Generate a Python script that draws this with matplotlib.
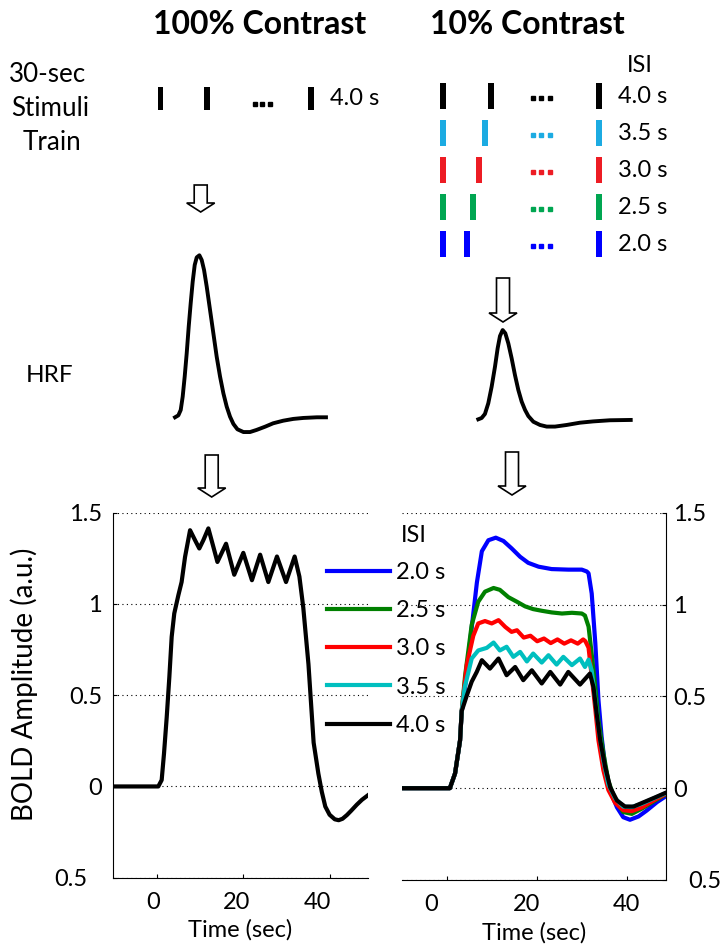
import matplotlib
matplotlib.use('Agg')
import matplotlib.pyplot as plt
import matplotlib.transforms as mtransforms
from matplotlib.patches import FancyArrow

plt.rcParams['font.family'] = ['Lato', 'DejaVu Sans']
plt.rcParams['font.size'] = 17

# ---- data ----
# stimulus trains (onset in s), rows top to bottom
isi = [4.0, 3.5, 3.0, 2.5, 2.0]
isi_labels = ['4.0 s', '3.5 s', '3.0 s', '2.5 s', '2.0 s']
bar_colors = ['#000000', '#1cabe2', '#ed1c24', '#00a651', '#0000ff']
last_onset = 13.0
dots_left = [8.1, 8.75, 9.4]
dots_right = [7.5, 8.2, 8.9]

# HRF
hrf_t_100 = [0, 0.66, 1.13, 1.52, 1.92, 2.32, 2.72, 3.11, 3.51, 3.91, 4.31, 4.84, 5.3, 5.77, 6.3, 6.96, 7.62,
             8.28, 8.95, 9.61, 10.27, 10.93, 11.6, 12.4, 13.6, 14.9, 16.2, 17.9, 19.5, 21.5, 23.5, 25.5, 28.2, 30.0]
hrf_a_100 = [0, 0.012, 0.045, 0.127, 0.251, 0.395, 0.56, 0.703, 0.837, 0.94, 0.987, 1.0, 0.971, 0.909, 0.806,
             0.662, 0.518, 0.374, 0.251, 0.148, 0.066, 0.004, -0.041, -0.074, -0.091, -0.091, -0.078, -0.058,
             -0.037, -0.021, -0.010, -0.004, 0, 0]
hrf_t_10 = [0, 0.66, 1.31, 1.97, 2.63, 3.29, 3.81, 4.27, 4.8, 5.32, 5.91, 6.57, 7.22, 7.88, 8.54, 9.2, 9.85,
            10.84, 12.15, 13.46, 15.1, 17.4, 20.0, 22.6, 25.9, 30.0]
hrf_a_10 = [0, 0.008, 0.033, 0.099, 0.201, 0.325, 0.438, 0.514, 0.551, 0.531, 0.469, 0.376, 0.273, 0.181,
            0.109, 0.058, 0.02, -0.015, -0.035, -0.045, -0.045, -0.035, -0.021, -0.013, -0.006, -0.004]

# BOLD, 100% contrast, ISI 4.0 s
t100 = [-10, 0.3, 1.08, 1.62, 2.25, 2.86, 3.4, 4.0, 4.95, 5.7, 6.5, 7.66, 8.8, 9.8, 10.75, 11.9, 13.06, 14.0,
        16.0, 17.9, 20.0, 22.0, 23.9, 25.8, 27.8, 29.9, 31.9, 33.0, 33.9, 35.1, 36.3, 37.4, 38.2, 39.0, 40.0,
        41.2, 42.1, 43.0, 44.0, 45.0, 46.3, 47.5, 48.9]
a100 = [0, 0, 0.035, 0.18, 0.38, 0.60, 0.82, 0.948, 1.048, 1.12, 1.258, 1.404, 1.35, 1.304, 1.35, 1.414, 1.313,
        1.23, 1.33, 1.16, 1.28, 1.13, 1.27, 1.12, 1.26, 1.12, 1.26, 1.15, 0.98, 0.67, 0.24, 0.07, -0.03, -0.11,
        -0.155, -0.18, -0.185, -0.177, -0.157, -0.133, -0.10, -0.073, -0.048]

# BOLD, 10% contrast
rise_t = [-10, 0.7, 1.85, 2.96, 3.33]
rise_a = [0, 0, 0.08, 0.26, 0.42]
t_20 = rise_t + [3.7, 5.2, 6.7, 7.8, 9.25, 10.9, 12.6, 14.4, 16.3, 18.1, 20.4, 23.3, 27.0, 30.0, 31.1, 31.5,
                 32.2, 33.0, 33.7, 34.4, 35.2, 36.3, 37.8, 39.2, 40.7, 42.6, 44.4, 46.7, 48.9]
a_20 = rise_a + [0.47, 0.80, 1.12, 1.29, 1.35, 1.364, 1.346, 1.306, 1.26, 1.227, 1.206, 1.193, 1.19, 1.19,
                 1.18, 1.17, 1.06, 0.79, 0.48, 0.28, 0.115, -0.013, -0.104, -0.158, -0.172, -0.154, -0.122,
                 -0.076, -0.04]
t_25 = rise_t + [4.07, 5.55, 7.0, 8.5, 10.4, 11.8, 13.7, 15.6, 17.4, 19.2, 21.1, 23.3, 25.6, 27.8, 30.0, 30.7,
                 31.5, 32.2, 33.0, 33.7, 34.8, 35.9, 37.4, 39.2, 41.1, 43.3, 46.3, 48.9]
a_25 = rise_a + [0.61, 0.89, 1.015, 1.07, 1.09, 1.08, 1.04, 1.015, 0.99, 0.975, 0.966, 0.957, 0.951, 0.955,
                 0.951, 0.94, 0.88, 0.73, 0.55, 0.37, 0.19, 0.04, -0.067, -0.13, -0.14, -0.112, -0.067, -0.03]
t_30 = rise_t + [4.44, 5.9, 7.0, 8.5, 10.0, 11.5, 13.0, 14.4, 15.6, 17.1, 18.6, 20.1, 21.6, 23.1, 24.6, 26.1,
                 27.6, 29.1, 30.3, 30.8, 31.5, 32.2, 33.0, 33.7, 34.8, 35.9, 37.4, 39.2, 41.1, 43.3, 46.3, 48.9]
a_30 = rise_a + [0.67, 0.83, 0.897, 0.91, 0.897, 0.915, 0.878, 0.851, 0.86, 0.82, 0.83, 0.80, 0.815, 0.79,
                 0.81, 0.787, 0.805, 0.787, 0.81, 0.80, 0.765, 0.61, 0.43, 0.26, 0.097, -0.01, -0.08, -0.12,
                 -0.125, -0.105, -0.062, -0.028]
t_35 = rise_t + [4.0, 5.55, 7.0, 8.9, 10.4, 11.8, 13.3, 14.8, 16.3, 17.8, 19.2, 21.1, 22.6, 24.4, 25.9, 27.8,
                 29.6, 30.7, 31.5, 32.2, 33.0, 33.7, 34.8, 35.9, 37.4, 39.2, 41.1, 43.3, 46.3, 48.9]
a_35 = rise_a + [0.55, 0.706, 0.75, 0.764, 0.793, 0.75, 0.77, 0.715, 0.742, 0.69, 0.733, 0.684, 0.724, 0.673,
                 0.715, 0.67, 0.706, 0.66, 0.70, 0.64, 0.48, 0.33, 0.15, 0.02, -0.055, -0.10, -0.103, -0.085,
                 -0.052, -0.025]
t_40 = rise_t + [4.4, 5.55, 6.67, 7.8, 9.6, 11.5, 13.3, 15.2, 17.0, 18.9, 21.1, 23.0, 25.2, 27.0, 29.6, 31.8,
                 32.6, 33.3, 34.1, 35.2, 36.3, 37.8, 39.6, 41.5, 43.7, 46.3, 48.9]
a_40 = rise_a + [0.50, 0.58, 0.633, 0.697, 0.651, 0.706, 0.615, 0.66, 0.588, 0.642, 0.57, 0.633, 0.564, 0.633,
                 0.564, 0.624, 0.55, 0.406, 0.26, 0.115, 0.005, -0.067, -0.10, -0.10, -0.077, -0.05, -0.022]

bold_10 = [(t_20, a_20, '#0000ff', '2.0 s'), (t_25, a_25, '#008000', '2.5 s'),
           (t_30, a_30, '#ff0000', '3.0 s'), (t_35, a_35, '#00bfbf', '3.5 s'),
           (t_40, a_40, '#000000', '4.0 s')]

yticks = [-0.5, 0, 0.5, 1, 1.5]
yticklabels = ['0.5', '0', '0.5', '1', '1.5']

W, H = 728, 950
fig = plt.figure(figsize=(W / 100, H / 100), dpi=100)


def box(x0, y0, x1, y1):
    # pixel box, origin top left -> figure fraction
    return [x0 / W, 1 - y1 / H, (x1 - x0) / W, (y1 - y0) / H]


def shift(lbl, dx):
    lbl.set_transform(lbl.get_transform() + mtransforms.ScaledTranslation(dx / 100, 0, fig.dpi_scale_trans))


# overlay for text and arrows
ov = fig.add_axes([0, 0, 1, 1], zorder=-1)
ov.set_xlim(0, W)
ov.set_ylim(H, 0)
ov.axis('off')

ov.text(260, 25, '100% Contrast', ha='center', va='center', fontsize=23, fontweight='bold')
ov.text(527, 25, '10% Contrast', ha='center', va='center', fontsize=23, fontweight='bold')
ov.text(48, 75, '30-sec', ha='center', va='center', fontsize=18.7)
ov.text(50, 108, 'Stimuli', ha='center', va='center', fontsize=18.7)
ov.text(52, 143, 'Train', ha='center', va='center', fontsize=18.7)
ov.text(50, 376, 'HRF', ha='center', va='center', fontsize=17.5)
ov.text(640, 66, 'ISI', ha='center', va='center')
# legend header sits over the right axes, so draw it at figure level
fig.text(401 / W, 1 - 535 / H, 'ISI', ha='left', va='center')

for x, y0, y1 in [(200.7, 185, 212), (211.7, 455, 497), (503, 278, 322), (512, 452, 495)]:
    ov.add_patch(FancyArrow(x, y0, 0, y1 - y0, width=13, head_width=28, head_length=9,
                            length_includes_head=True, facecolor='white', edgecolor='black', lw=1.2))

# stimulus trains
sl = fig.add_axes(box(148.9, 80, 381, 117))
sl.set_xlim(-1, 19)
sl.set_ylim(0.5, -0.5)
sl.axis('off')
sl.bar([0, isi[0], last_onset], 0.64, width=0.5, bottom=-0.32, color='black')
sl.plot(dots_left, [0.15] * 3, 's', ms=2.6, color='black')
sl.text(14.6, 0, isi_labels[0], ha='left', va='center')

sr = fig.add_axes(box(431, 77.5, 671, 262.5))
sr.set_xlim(-1, 19)
sr.set_ylim(4.5, -0.5)
sr.axis('off')
for i in range(len(isi)):
    w = 0.5 if i == 0 else 0.42
    sr.bar([0, isi[i], last_onset], 0.68, width=w, bottom=i - 0.34, color=bar_colors[i])
    sr.plot(dots_right, [i + 0.06] * 3, 's', ms=3.5, color=bar_colors[i])
    sr.text(14.6, i, isi_labels[i], ha='left', va='center')

# HRFs
hl = fig.add_axes(box(170, 247.2, 331, 441.6))
hl.plot(hrf_t_100, hrf_a_100, color='black', lw=2.8)
hl.set_xlim(-1, 31)
hl.set_ylim(-0.15, 1.05)
hl.axis('off')

hr = fig.add_axes(box(473.2, 249.2, 635.8, 443.6))
hr.plot(hrf_t_10, hrf_a_10, color='black', lw=2.8)
hr.set_xlim(-1, 31)
hr.set_ylim(-0.15, 1.05)
hr.axis('off')


def style(ax, side):
    ax.set_ylim(-0.5, 1.5)
    ax.set_yticks(yticks)
    ax.set_yticklabels(yticklabels)
    ax.set_xticks([0, 20, 40])
    ax.grid(axis='y', color='black', linestyle=(0, (1, 3)), lw=0.8)
    ax.spines['top'].set_visible(False)
    for s in ax.spines.values():
        s.set_linewidth(0.8)
    ax.tick_params(direction='in', length=3, width=0.8)
    ax.tick_params(axis='x', pad=10)
    ax.set_xlabel('Time (sec)', labelpad=5)
    if side == 'left':
        ax.spines['right'].set_visible(False)
        ax.tick_params(axis='y', pad=8)
    else:
        ax.spines['left'].set_visible(False)
        ax.yaxis.tick_right()
        ax.tick_params(axis='y', pad=5)


bl = fig.add_axes(box(113, 512.7, 368, 877.7))
bl.plot(t100, a100, color='black', lw=3)
bl.set_xlim(-10.2, 48.9)
style(bl, 'left')
bl.set_ylabel('BOLD Amplitude (a.u.)', fontsize=20)
bl.yaxis.set_label_coords(-0.294, 0.53)

br = fig.add_axes(box(401.7, 512.7, 666, 880))
br.patch.set_alpha(0)
handles = []
for t, a, c, lab in bold_10:
    ln, = br.plot(t, a, color=c, lw=3, label=lab)
    handles.append(ln)
br.set_xlim(-10, 48.7)
style(br, 'right')

fig.canvas.draw()
shift(bl.get_yticklabels()[0], -15)
shift(br.get_yticklabels()[0], 15)
for lbl, dx in zip(bl.get_xticklabels(), [-4, -7, -12]):
    shift(lbl, dx)
for lbl, dx in zip(br.get_xticklabels(), [-16, -10, 0]):
    shift(lbl, dx)

fig.legend(handles, [h.get_label() for h in handles], loc='upper left',
           bbox_to_anchor=(327 / W, 1 - 562 / H), frameon=False, borderpad=0, borderaxespad=0,
           handlelength=2.67, handletextpad=0.25, labelspacing=0.73)

fig.savefig('out.png', dpi=100)
